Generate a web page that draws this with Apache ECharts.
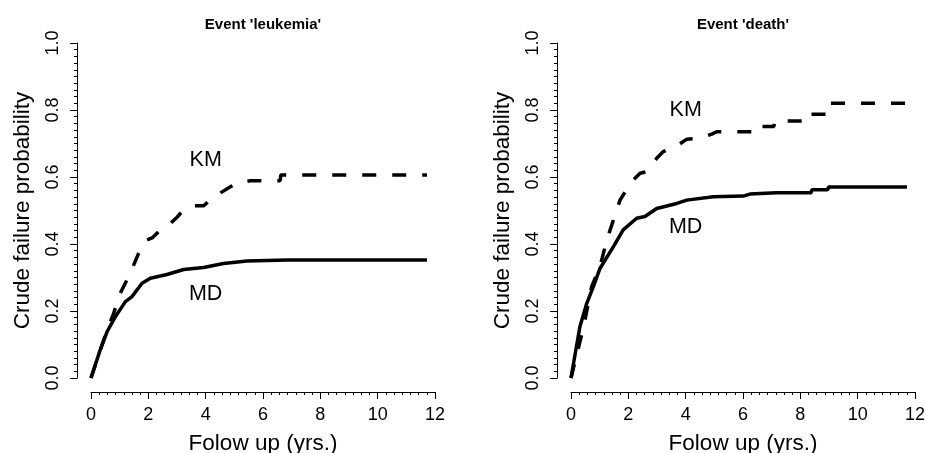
<!DOCTYPE html>
<html lang="en">
  <head>
    <meta charset="UTF-8" />
    <script src="https://cdn.jsdelivr.net/npm/echarts@6/dist/echarts.min.js"></script>
    <title>Crude failure probability</title>
  </head>
  <body style="margin: 0">
    <div id="chart" style="width: 927px; height: 453px"></div>
  </body>
</html>

<script>
  // curves: [years, probability]
  const leukMD = [
    [0, 0], [0.32, 0.084], [0.56, 0.138], [0.85, 0.183], [1.2, 0.228], [1.43, 0.243],
    [1.78, 0.283], [2.07, 0.298], [2.65, 0.309], [3.23, 0.324], [3.93, 0.33],
    [4.62, 0.342], [5.44, 0.349], [6.84, 0.352], [11.72, 0.352],
  ];
  const leukKM = [
    [0, 0], [0.56, 0.143], [0.79, 0.193], [1.02, 0.253], [1.37, 0.313], [1.66, 0.372],
    [1.89, 0.41], [2.13, 0.418], [2.42, 0.442], [2.65, 0.452], [3.0, 0.48], [3.17, 0.496],
    [3.52, 0.514], [3.93, 0.514], [4.28, 0.541], [4.39, 0.546], [4.92, 0.574],
    [5.03, 0.581], [5.56, 0.589], [6.6, 0.589], [6.62, 0.606], [11.72, 0.606],
  ];
  const deathMD = [
    [0, 0], [0.31, 0.153], [0.55, 0.223], [0.78, 0.273], [1.01, 0.327], [1.48, 0.392],
    [1.82, 0.442], [2.29, 0.477], [2.58, 0.482], [2.99, 0.506], [3.69, 0.521],
    [4.04, 0.531], [4.96, 0.541], [6.01, 0.543], [6.24, 0.549], [7.17, 0.553],
    [8.38, 0.553], [8.4, 0.562], [8.96, 0.562], [8.98, 0.57], [11.72, 0.57],
  ];
  const deathKM = [
    [0, 0], [0.44, 0.153], [0.72, 0.273], [1.01, 0.332], [1.25, 0.412], [1.48, 0.472],
    [1.71, 0.531], [2.0, 0.571], [2.17, 0.591], [2.41, 0.611], [2.64, 0.616],
    [2.99, 0.656], [3.22, 0.676], [3.69, 0.693], [4.04, 0.713], [4.5, 0.715],
    [4.91, 0.728], [5.08, 0.735], [6.3, 0.735], [6.32, 0.751], [7.08, 0.751],
    [7.1, 0.767], [8.36, 0.767], [8.38, 0.787], [8.96, 0.787], [8.98, 0.82], [11.72, 0.82],
  ];
  const panelTitles = ["Event 'leukemia'", "Event 'death'"];
  const curveLabels = ["KM", "MD"];
  const leukLabelPos = [[4, 0.65], [4, 0.25]];
  const deathLabelPos = [[4, 0.8], [4, 0.45]];
  const xTicks = [0, 12, 2];
  const yTicks = [0, 1, 0.2];

  const font = "'Liberation Sans', Arial, Helvetica, sans-serif";
  const chart = echarts.init(document.getElementById("chart"), null, { renderer: "canvas" });

  const makeX = (gi) => ({
    type: "value",
    gridIndex: gi,
    min: xTicks[0],
    max: xTicks[1],
    interval: xTicks[2],
    offset: 14,
    name: "Folow up (yrs.)",
    nameLocation: "middle",
    nameGap: 40,
    nameTextStyle: { fontFamily: font, fontSize: 22.5, color: "#000" },
    axisLine: { show: true, onZero: false, lineStyle: { color: "#000", width: 1 } },
    axisTick: { show: true, length: 7, lineStyle: { color: "#000" } },
    minorTick: { show: true, splitNumber: 7, length: 3, lineStyle: { color: "#000" } },
    axisLabel: { fontFamily: font, fontSize: 18, color: "#000", margin: 14 },
    splitLine: { show: false },
  });
  const makeY = (gi) => ({
    type: "value",
    gridIndex: gi,
    min: yTicks[0],
    max: yTicks[1],
    interval: yTicks[2],
    offset: 14,
    name: "Crude failure probability",
    nameLocation: "middle",
    nameGap: 43,
    nameRotate: 90,
    nameTextStyle: { fontFamily: font, fontSize: 22.5, color: "#000" },
    axisLine: { show: true, onZero: false, lineStyle: { color: "#000", width: 1 } },
    axisTick: { show: true, length: 7, lineStyle: { color: "#000" } },
    minorTick: { show: true, splitNumber: 10, length: 3, lineStyle: { color: "#000" } },
    axisLabel: {
      fontFamily: font,
      fontSize: 18,
      color: "#000",
      rotate: 90,
      margin: 15,
      formatter: (v) => v.toFixed(1),
    },
    splitLine: { show: false },
  });

  const curve = (data, gi, dashed) => ({
    type: "line",
    xAxisIndex: gi,
    yAxisIndex: gi,
    data: data,
    showSymbol: false,
    symbol: "none",
    lineStyle: { color: "#000", width: 3.5, type: dashed ? [14, 16] : "solid", cap: "butt" },
    silent: true,
  });
  const labels = (pos, gi) => ({
    type: "scatter",
    xAxisIndex: gi,
    yAxisIndex: gi,
    symbolSize: 0,
    itemStyle: { color: "#000", opacity: 1 },
    label: {
      show: true,
      position: [0, 0],
      align: "center",
      verticalAlign: "middle",
      formatter: (p) => p.name,
      fontFamily: font,
      fontSize: 21.5,
      color: "#000",
    },
    data: pos.map((p, i) => ({ name: curveLabels[i], value: p })),
    silent: true,
  });

  const option = {
    animation: false,
    backgroundColor: "#fff",
    title: [
      {
        text: panelTitles[0],
        left: 258,
        top: 12,
        textAlign: "center",
        textStyle: { fontFamily: font, fontSize: 15, fontWeight: "bold", color: "#000" },
      },
      {
        text: panelTitles[1],
        left: 738,
        top: 12,
        textAlign: "center",
        textStyle: { fontFamily: font, fontSize: 15, fontWeight: "bold", color: "#000" },
      },
    ],
    grid: [
      { left: 91, right: 492, top: 43, bottom: 75, outerBoundsMode: "none", containLabel: false },
      { left: 571, right: 12, top: 43, bottom: 75, outerBoundsMode: "none", containLabel: false },
    ],
    xAxis: [makeX(0), makeX(1)],
    yAxis: [makeY(0), makeY(1)],
    series: [
      curve(leukKM, 0, true),
      curve(leukMD, 0, false),
      labels(leukLabelPos, 0),
      curve(deathKM, 1, true),
      curve(deathMD, 1, false),
      labels(deathLabelPos, 1),
    ],
  };
  chart.setOption(option);
</script>
